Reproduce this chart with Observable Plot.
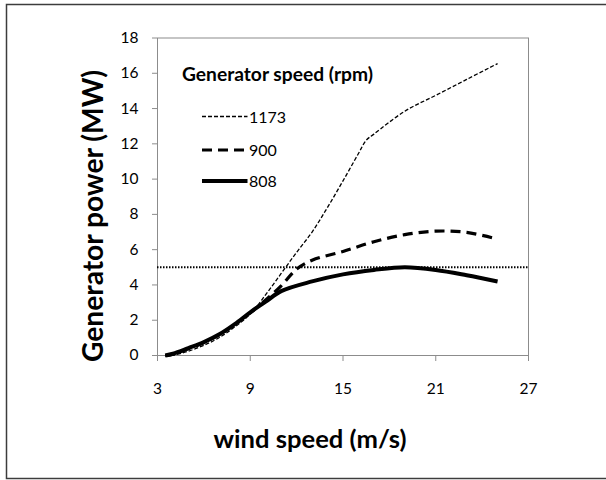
<!DOCTYPE html>
<html>
<head>
<meta charset="utf-8">
<script src="https://cdn.jsdelivr.net/npm/d3@7"></script>
<script src="https://cdn.jsdelivr.net/npm/@observablehq/plot@0.6"></script>
<style>
  body { margin: 0; background: #fff; }
  #chart { width: 606px; height: 480px; }
</style>
</head>
<body>
<div id="chart"></div>
<script>
// ---- data ----
const xTicks = [3, 9, 15, 21, 27];
const yTicks = [0, 2, 4, 6, 8, 10, 12, 14, 16, 18];
const speedLabels = ["1173", "900", "808"];

const wind1173 = [3.5, 4, 5, 6, 7, 8, 9, 10, 11, 12, 13, 14, 15, 16, 16.5, 17, 19, 21, 23, 25];
const power1173 = [0, 0.02, 0.25, 0.58, 1.02, 1.62, 2.35, 3.45, 4.65, 5.85, 7.0, 8.4, 9.9, 11.45, 12.2, 12.55, 13.85, 14.75, 15.65, 16.55];

const wind900 = [3.5, 4, 5, 6, 7, 8, 9, 10, 11, 12, 13, 15, 17, 19, 21, 23, 25];
const power900 = [0, 0.08, 0.38, 0.74, 1.18, 1.76, 2.42, 3.15, 3.95, 4.9, 5.4, 5.9, 6.45, 6.85, 7.05, 6.98, 6.6];

const wind808 = [3.5, 4, 5, 6, 7, 8, 9, 10, 11, 13, 15, 17, 19, 21, 23, 25];
const power808 = [0, 0.1, 0.42, 0.76, 1.2, 1.78, 2.45, 3.05, 3.65, 4.2, 4.6, 4.85, 5.0, 4.85, 4.55, 4.2];

const ratedPower = [5];

const xTitle = "wind speed (m/s)";
const yTitle = "Generator power (MW)";
const legendTitle = "Generator speed (rpm)";

// ---- build rows ----
const toRows = (xs, ys) => xs.map((x, i) => ({x, y: ys[i]}));
const series = {
  "1173": toRows(wind1173, power1173),
  "900": toRows(wind900, power900),
  "808": toRows(wind808, power808)
};
const lineStyle = {
  "1173": {strokeWidth: 1.3, strokeDasharray: "4,2"},
  "900": {strokeWidth: 3.2, strokeDasharray: "10,6"},
  "808": {strokeWidth: 4, strokeDasharray: null}
};

const FONT = "Lato, 'Open Sans', sans-serif";
const axisGray = "#8c8c8c";

const plot = Plot.plot({
  width: 606,
  height: 480,
  marginLeft: 157,
  marginRight: 78,
  marginTop: 37.5,
  marginBottom: 125,
  style: {fontFamily: FONT, background: "white", color: "black"},
  x: {domain: [3, 27], ticks: xTicks},
  y: {domain: [0, 18], ticks: yTicks},
  marks: [
    Plot.frame({stroke: axisGray}),
    Plot.axisX({ticks: xTicks, tickSize: 6, tickPadding: 21, fontSize: 15.5, label: null, stroke: axisGray, fill: "black"}),
    Plot.axisY({ticks: yTicks, tickSize: 5, tickPadding: 14, fontSize: 15.5, label: null, stroke: axisGray, fill: "black"}),
    Plot.ruleY(ratedPower, {stroke: "black", strokeWidth: 2, strokeDasharray: "1.5,1.5"}),
    ...speedLabels.map(k => Plot.line(series[k], {
      x: "x", y: "y", curve: "catmull-rom", stroke: "black",
      strokeWidth: lineStyle[k].strokeWidth,
      strokeDasharray: lineStyle[k].strokeDasharray,
      strokeLinecap: "butt"
    }))
  ]
});

document.getElementById("chart").appendChild(plot);

// ---- decorations: outer frame, titles, legend ----
const svg = d3.select(plot);

svg.append("rect")
  .attr("x", 6.5).attr("y", 4.5)
  .attr("width", 640).attr("height", 474)
  .attr("fill", "none").attr("stroke", "#3c3c3c").attr("stroke-width", 1.5);

svg.append("text")
  .attr("transform", "translate(103,216) rotate(-90)")
  .attr("text-anchor", "middle")
  .attr("font-family", FONT).attr("font-weight", "bold").attr("font-size", 28)
  .attr("textLength", 292).attr("lengthAdjust", "spacingAndGlyphs")
  .attr("fill", "black")
  .text(yTitle);

svg.append("text")
  .attr("x", 310).attr("y", 448)
  .attr("text-anchor", "middle")
  .attr("font-family", FONT).attr("font-weight", "bold").attr("font-size", 25)
  .attr("textLength", 193).attr("lengthAdjust", "spacingAndGlyphs")
  .attr("fill", "black")
  .text(xTitle);

const legend = svg.append("g").attr("text-anchor", "start");
legend.append("text")
  .attr("x", 182).attr("y", 81)
  .attr("text-anchor", "start")
  .attr("font-family", FONT).attr("font-weight", "bold").attr("font-size", 19)
  .attr("textLength", 191).attr("lengthAdjust", "spacingAndGlyphs")
  .attr("fill", "black")
  .text(legendTitle);

const legendLineY = [116.5, 150, 181];
speedLabels.forEach((k, i) => {
  const y = legendLineY[i];
  legend.append("line")
    .attr("x1", 202).attr("x2", 247.5).attr("y1", y).attr("y2", y)
    .attr("stroke", "black")
    .attr("stroke-width", lineStyle[k].strokeWidth)
    .attr("stroke-dasharray", lineStyle[k].strokeDasharray);
  legend.append("text")
    .attr("x", 249).attr("y", y + 6.3)
    .attr("text-anchor", "start")
    .attr("font-family", FONT).attr("font-size", 16)
    .attr("fill", "black")
    .text(k);
});
</script>
</body>
</html>
